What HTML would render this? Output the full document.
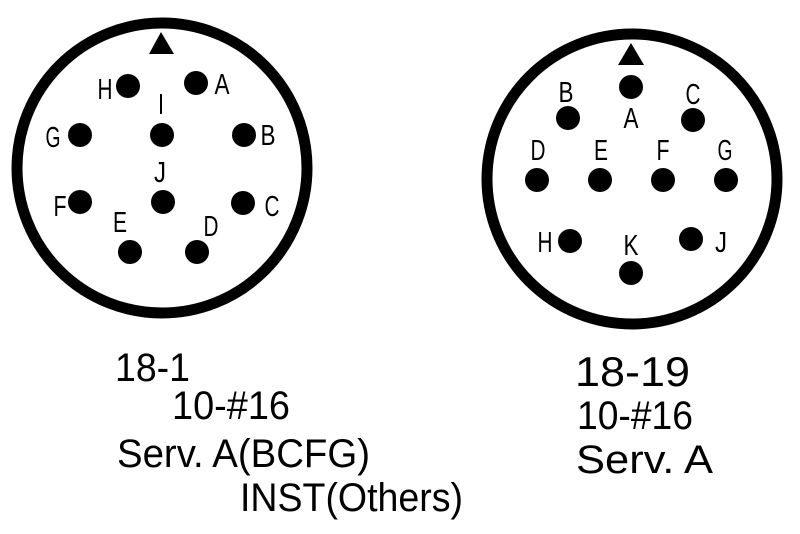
<!DOCTYPE html>
<html><head><style>html,body{margin:0;padding:0;background:#fff}svg{display:block}</style></head>
<body>
<svg width="800" height="534" viewBox="0 0 800 534" xmlns="http://www.w3.org/2000/svg" font-family="Liberation Sans, sans-serif">
<rect width="800" height="534" fill="#fff"/>
<g fill="none" stroke="#000" stroke-width="11">
<circle cx="162" cy="168" r="145"/>
<circle cx="632" cy="179" r="145"/>
</g>
<g fill="#000">
<polygon points="161,32 149,54 174,54"/>
<polygon points="631,43 618,65 644,65"/>
<circle cx="128" cy="86" r="12"/><circle cx="196" cy="83" r="12"/>
<circle cx="162" cy="135" r="12"/><circle cx="80" cy="135" r="12"/><circle cx="244" cy="135" r="12"/>
<circle cx="163" cy="202" r="12"/><circle cx="80" cy="202" r="12"/><circle cx="243" cy="203" r="12"/>
<circle cx="130" cy="252" r="12"/><circle cx="197" cy="252" r="12"/>
<circle cx="631" cy="87" r="12"/><circle cx="568" cy="118" r="12"/><circle cx="693" cy="120" r="12"/>
<circle cx="537" cy="180" r="12"/><circle cx="600" cy="180" r="12"/><circle cx="663" cy="180" r="12"/><circle cx="726" cy="180" r="12"/>
<circle cx="570" cy="241" r="12"/><circle cx="691" cy="239" r="12"/><circle cx="631" cy="273" r="12"/>
</g>
<g font-size="29" text-anchor="middle">
<text x="105" y="99" textLength="15" lengthAdjust="spacingAndGlyphs">H</text><text x="222" y="94" textLength="15" lengthAdjust="spacingAndGlyphs">A</text><text x="161" y="114" textLength="6" lengthAdjust="spacingAndGlyphs">I</text>
<text x="53" y="147" textLength="15" lengthAdjust="spacingAndGlyphs">G</text><text x="268" y="145" textLength="15" lengthAdjust="spacingAndGlyphs">B</text><text x="160" y="182" textLength="12" lengthAdjust="spacingAndGlyphs">J</text>
<text x="60" y="216" textLength="13" lengthAdjust="spacingAndGlyphs">F</text><text x="272" y="216" textLength="15" lengthAdjust="spacingAndGlyphs">C</text><text x="120" y="232" textLength="14" lengthAdjust="spacingAndGlyphs">E</text><text x="211" y="236" textLength="15" lengthAdjust="spacingAndGlyphs">D</text>
<text x="566" y="102" textLength="15" lengthAdjust="spacingAndGlyphs">B</text><text x="631" y="128" textLength="15" lengthAdjust="spacingAndGlyphs">A</text><text x="693" y="104" textLength="15" lengthAdjust="spacingAndGlyphs">C</text>
<text x="538" y="160" textLength="15" lengthAdjust="spacingAndGlyphs">D</text><text x="601" y="160" textLength="14" lengthAdjust="spacingAndGlyphs">E</text><text x="663" y="160" textLength="13" lengthAdjust="spacingAndGlyphs">F</text><text x="725" y="160" textLength="15" lengthAdjust="spacingAndGlyphs">G</text>
<text x="545" y="252" textLength="15" lengthAdjust="spacingAndGlyphs">H</text><text x="631" y="255" textLength="15" lengthAdjust="spacingAndGlyphs">K</text><text x="721" y="252" textLength="12" lengthAdjust="spacingAndGlyphs">J</text>
</g>
<g font-size="40">
<text x="115" y="381" textLength="75" lengthAdjust="spacingAndGlyphs">18-1</text>
<text x="172" y="419" textLength="118" lengthAdjust="spacingAndGlyphs">10-#16</text>
<text x="117" y="467" textLength="253" lengthAdjust="spacingAndGlyphs">Serv. A(BCFG)</text>
<text x="240" y="511" textLength="223" lengthAdjust="spacingAndGlyphs">INST(Others)</text>
<text x="575" y="386" font-size="42" textLength="115" lengthAdjust="spacingAndGlyphs">18-19</text>
<text x="577" y="429" textLength="116" lengthAdjust="spacingAndGlyphs">10-#16</text>
<text x="576" y="473" textLength="137" lengthAdjust="spacingAndGlyphs">Serv. A</text>
</g>
</svg>
</body></html>
